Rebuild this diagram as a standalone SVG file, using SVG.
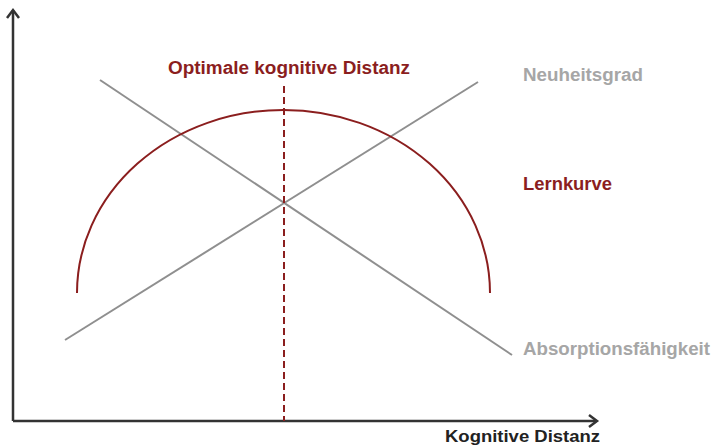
<svg xmlns="http://www.w3.org/2000/svg" width="712" height="447" viewBox="0 0 712 447">
<style>
.axis{stroke:#333;stroke-width:2.5;fill:none}
.grey{stroke:#8f8f8f;stroke-width:2;fill:none}
.red{stroke:#8b1e1e;stroke-width:2;fill:none}
.t{font-family:"Liberation Sans",Arial,sans-serif;font-weight:bold}
</style>
<rect width="712" height="447" fill="#fff"/>
<g id="axes">
<path class="axis" d="M13,421 V10 M13,421 H596"/>
<path class="axis" d="M7,18 L13,10 L19,18 M589,415 L597,421 L589,427" stroke-linejoin="miter"/>
</g>
<g id="connectors">
<line class="grey" x1="65" y1="340" x2="478" y2="82"/>
<line class="grey" x1="100" y1="80" x2="512" y2="355"/>
<path class="red" d="M77,293 A206.5,183 0 0 1 490,293"/>
<line class="red" x1="284" y1="86" x2="284" y2="421" stroke-dasharray="7,4"/>
</g>
<g id="labels">
<text class="t" x="289" y="74" font-size="18" fill="#8b1e1e" text-anchor="middle" textLength="242" lengthAdjust="spacingAndGlyphs">Optimale kognitive Distanz</text>
<text class="t" x="523" y="81" font-size="18" fill="#a6a6a6" textLength="120" lengthAdjust="spacingAndGlyphs">Neuheitsgrad</text>
<text class="t" x="523" y="190" font-size="18" fill="#8b1e1e" textLength="89" lengthAdjust="spacingAndGlyphs">Lernkurve</text>
<text class="t" x="523" y="355" font-size="18" fill="#a6a6a6" textLength="187" lengthAdjust="spacingAndGlyphs">Absorptionsfähigkeit</text>
<text class="t" x="445" y="442" font-size="17" fill="#222" textLength="155" lengthAdjust="spacingAndGlyphs">Kognitive Distanz</text>
</g>
</svg>
